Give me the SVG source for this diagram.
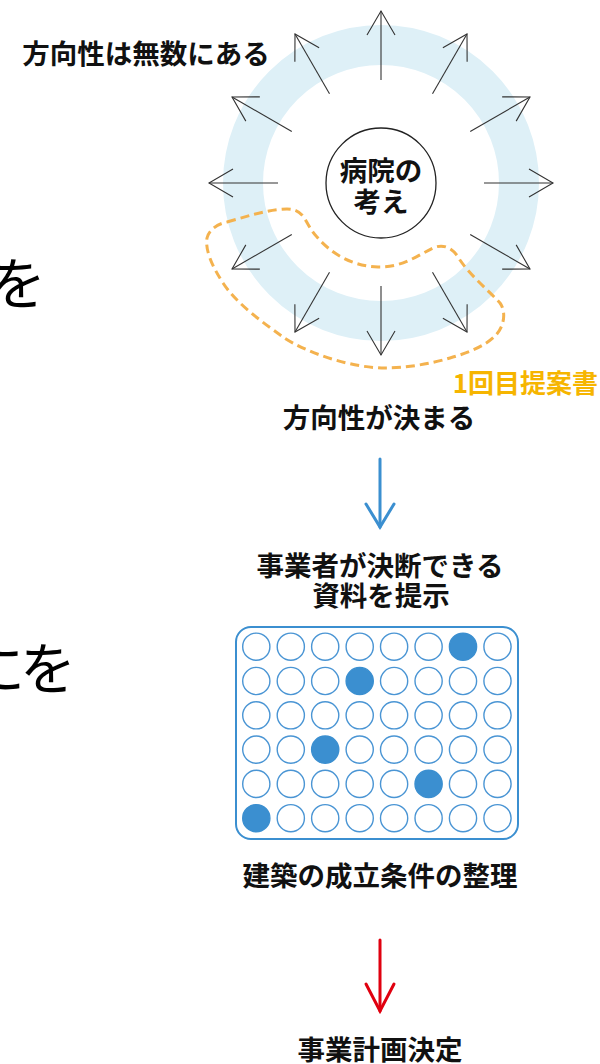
<svg xmlns="http://www.w3.org/2000/svg" width="600" height="1064" viewBox="0 0 600 1064">
<style>
.t{font-family:"Noto Sans CJK JP","Noto Sans CJK SC",sans-serif;font-weight:700;fill:#111;font-size:27.5px;text-anchor:middle}
.big{font-family:"Noto Sans CJK JP","Noto Sans CJK SC",sans-serif;font-weight:400;fill:#000;font-size:56px}
.ar{stroke:#333;stroke-width:1.1;fill:none}
.c{fill:#fff;stroke:#4a95d4;stroke-width:1.4}
.f{fill:#3b8fd0;stroke:#3b8fd0;stroke-width:1.4}
</style>
<defs>
<g id="arrow" class="ar"><line x1="484" y1="183" x2="553" y2="183"/><polyline points="529,169 553,183 529,197"/></g>
</defs>
<rect width="600" height="1064" fill="#fff"/>
<g id="fragments">
<text class="big" x="46" y="304" text-anchor="end">を</text>
<text class="big" x="-31" y="689">に</text>
<text class="big" x="76" y="689" text-anchor="end">を</text>
</g>
<g id="ring"><circle cx="381" cy="183" r="138" fill="none" stroke="#def0f7" stroke-width="40"/></g>
<g id="connectors">
<use href="#arrow" transform="rotate(0 381 183)"/>
<use href="#arrow" transform="rotate(-30 381 183)"/>
<use href="#arrow" transform="rotate(-60 381 183)"/>
<use href="#arrow" transform="rotate(-90 381 183)"/>
<use href="#arrow" transform="rotate(-120 381 183)"/>
<use href="#arrow" transform="rotate(-150 381 183)"/>
<use href="#arrow" transform="rotate(-180 381 183)"/>
<use href="#arrow" transform="rotate(-210 381 183)"/>
<use href="#arrow" transform="rotate(-240 381 183)"/>
<use href="#arrow" transform="rotate(-270 381 183)"/>
<use href="#arrow" transform="rotate(-300 381 183)"/>
<use href="#arrow" transform="rotate(-330 381 183)"/>
<g stroke="#3b8fd0" stroke-width="3" fill="none" stroke-linecap="round"><line x1="380" y1="459" x2="380" y2="527"/><polyline points="366,504 380,527 394,504"/></g>
<g stroke="#e0000f" stroke-width="3" fill="none" stroke-linecap="round"><line x1="380" y1="940" x2="380" y2="1011"/><polyline points="366,984 380,1011 394,984"/></g>
</g>
<g id="hospital">
<circle cx="381" cy="183" r="55" fill="#fff" stroke="#222" stroke-width="1.3"/>
<text class="t" x="381" y="181" font-size="26.5">病院の</text>
<text class="t" x="381" y="212" font-size="26.5">考え</text>
</g>
<g id="proposal">
<path d="M227,222 C248,216 270,209 287,209 C297,209 301,213 305,219 C309,226 312,232 317,237 C330,252 350,266 378,267 C402,268 420,254 433,248 C442,244 452,246 460,260 C470,275 488,290 500,303 C506,311 505,326 495,336 C485,346 468,353 450,358 C430,364 405,368 385,368 C350,368 305,352 283,337 C262,322 236,303 223,283 C212,266 205,250 207,238 C209,230 217,224 227,222 Z" fill="none" stroke="#f4b24e" stroke-width="3" stroke-dasharray="9 5"/>
<text x="598" y="393" font-family="Noto Sans CJK JP,sans-serif" font-weight="700" font-size="26" fill="#f6b500" text-anchor="end">1回目提案書</text>
</g>
<g id="label-top"><text class="t" x="146" y="64">方向性は無数にある</text></g>
<g id="label-direction"><text class="t" x="379" y="428">方向性が決まる</text></g>
<g id="label-materials">
<text class="t" x="380" y="576">事業者が決断できる</text>
<text class="t" x="381" y="606">資料を提示</text>
</g>
<g id="grid">
<rect x="236" y="627" width="282" height="212" rx="15" fill="#fff" stroke="#3b8fd0" stroke-width="2"/>
<g id="cells">
<g class="c">
<circle cx="256.3" cy="646.7" r="13.6"/><circle cx="290.8" cy="646.7" r="13.6"/><circle cx="325.2" cy="646.7" r="13.6"/><circle cx="359.7" cy="646.7" r="13.6"/><circle cx="394.1" cy="646.7" r="13.6"/><circle cx="428.6" cy="646.7" r="13.6"/><circle cx="497.5" cy="646.7" r="13.6"/>
<circle cx="256.3" cy="681" r="13.6"/><circle cx="290.8" cy="681" r="13.6"/><circle cx="325.2" cy="681" r="13.6"/><circle cx="394.1" cy="681" r="13.6"/><circle cx="428.6" cy="681" r="13.6"/><circle cx="463" cy="681" r="13.6"/><circle cx="497.5" cy="681" r="13.6"/>
<circle cx="256.3" cy="715.3" r="13.6"/><circle cx="290.8" cy="715.3" r="13.6"/><circle cx="325.2" cy="715.3" r="13.6"/><circle cx="359.7" cy="715.3" r="13.6"/><circle cx="394.1" cy="715.3" r="13.6"/><circle cx="428.6" cy="715.3" r="13.6"/><circle cx="463" cy="715.3" r="13.6"/><circle cx="497.5" cy="715.3" r="13.6"/>
<circle cx="256.3" cy="749.6" r="13.6"/><circle cx="290.8" cy="749.6" r="13.6"/><circle cx="359.7" cy="749.6" r="13.6"/><circle cx="394.1" cy="749.6" r="13.6"/><circle cx="428.6" cy="749.6" r="13.6"/><circle cx="463" cy="749.6" r="13.6"/><circle cx="497.5" cy="749.6" r="13.6"/>
<circle cx="256.3" cy="783.9" r="13.6"/><circle cx="290.8" cy="783.9" r="13.6"/><circle cx="325.2" cy="783.9" r="13.6"/><circle cx="359.7" cy="783.9" r="13.6"/><circle cx="394.1" cy="783.9" r="13.6"/><circle cx="463" cy="783.9" r="13.6"/><circle cx="497.5" cy="783.9" r="13.6"/>
<circle cx="290.8" cy="818.2" r="13.6"/><circle cx="325.2" cy="818.2" r="13.6"/><circle cx="359.7" cy="818.2" r="13.6"/><circle cx="394.1" cy="818.2" r="13.6"/><circle cx="428.6" cy="818.2" r="13.6"/><circle cx="463" cy="818.2" r="13.6"/><circle cx="497.5" cy="818.2" r="13.6"/>
</g>
<g class="f">
<circle cx="463" cy="646.7" r="13.6"/><circle cx="359.7" cy="681" r="13.6"/><circle cx="325.2" cy="749.6" r="13.6"/><circle cx="428.6" cy="783.9" r="13.6"/><circle cx="256.3" cy="818.2" r="13.6"/>
</g>
</g>
</g>
<g id="label-conditions"><text class="t" x="380" y="886">建築の成立条件の整理</text></g>
<g id="label-plan"><text class="t" x="380" y="1060">事業計画決定</text></g>
</svg>
